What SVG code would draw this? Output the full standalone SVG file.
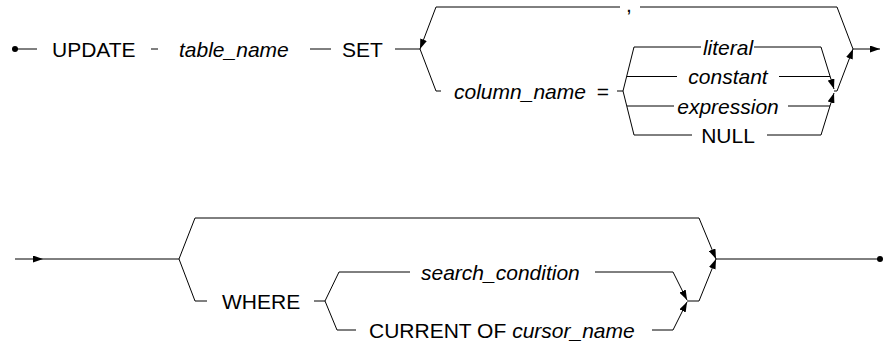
<svg xmlns="http://www.w3.org/2000/svg" width="892" height="343" viewBox="0 0 892 343">
<style>
text{font-family:"Liberation Sans",Arial,sans-serif;font-size:21px;fill:#000}
.i{font-style:italic}
.m{text-anchor:middle}
.c path{fill:none;stroke:#000;stroke-width:1}
.a{marker-end:url(#arr)}
</style>
<defs>
<marker id="arr" viewBox="0 0 10 7" refX="10" refY="3.5" markerWidth="10" markerHeight="7" markerUnits="userSpaceOnUse" orient="auto">
<path d="M0,0 L10,3.5 L0,7 Z" fill="#000"/>
</marker>
</defs>
<rect width="892" height="343" fill="#fff"/>
<g id="connectors" class="c">
<circle cx="15" cy="49" r="3" fill="#000"/>
<path d="M15,49 H37"/>
<path d="M151,49 H158"/>
<path d="M310,49 H331"/>
<path d="M395,49 H420"/>
<path d="M853,49 L837,7 H640"/>
<path class="a" d="M620,7 H436 L420,49"/>
<path d="M420,49 L436,91 H441"/>
<path d="M617,91 H623"/>
<path d="M623,91 L634,47 H701"/>
<path class="a" d="M754,47 H821 L834,89"/>
<path d="M627,76.5 H677"/>
<path d="M779,76.5 H830"/>
<path d="M627,106 H674"/>
<path d="M788,106 H830"/>
<path d="M623,91 L634,135 H692"/>
<path class="a" d="M767,135 H821 L834,93"/>
<path class="a" d="M834,91 H837 L853,49"/>
<path class="a" d="M853,49 H880"/>
<path class="a" d="M15,259 H43"/>
<path d="M43,259 H179"/>
<path class="a" d="M179,259 L195,218 H699 L716,259"/>
<path d="M179,259 L195,301 H207"/>
<path d="M314,301 H325"/>
<path d="M325,301 L339,272 H410"/>
<path class="a" d="M595,272 H673 L687,300"/>
<path d="M325,301 L337,330 H356"/>
<path class="a" d="M652,330 H673 L687,302"/>
<path class="a" d="M687,301 H699 L716,259"/>
<path d="M716,259 H880"/>
<circle cx="880" cy="259" r="3" fill="#000"/>
</g>
<g id="update"><text x="52" y="56.5">UPDATE</text></g>
<g id="table_name"><text class="i" x="179" y="56.5">table_name</text></g>
<g id="set"><text x="342" y="56.5">SET</text></g>
<g id="comma"><text class="m" x="629" y="12">,</text></g>
<g id="column_name"><text x="454" y="98.5"><tspan class="i">column_name</tspan><tspan dx="5"> =</tspan></text></g>
<g id="literal"><text class="i m" x="728" y="54.5">literal</text></g>
<g id="constant"><text class="i m" x="728" y="84">constant</text></g>
<g id="expression"><text class="i m" x="728" y="113.5">expression</text></g>
<g id="null"><text class="m" x="728" y="142.5">NULL</text></g>
<g id="where"><text x="222" y="308.5">WHERE</text></g>
<g id="search_condition"><text class="i" x="421" y="279.5">search_condition</text></g>
<g id="current_of"><text x="369" y="337.5">CURRENT OF <tspan class="i">cursor_name</tspan></text></g>
</svg>
